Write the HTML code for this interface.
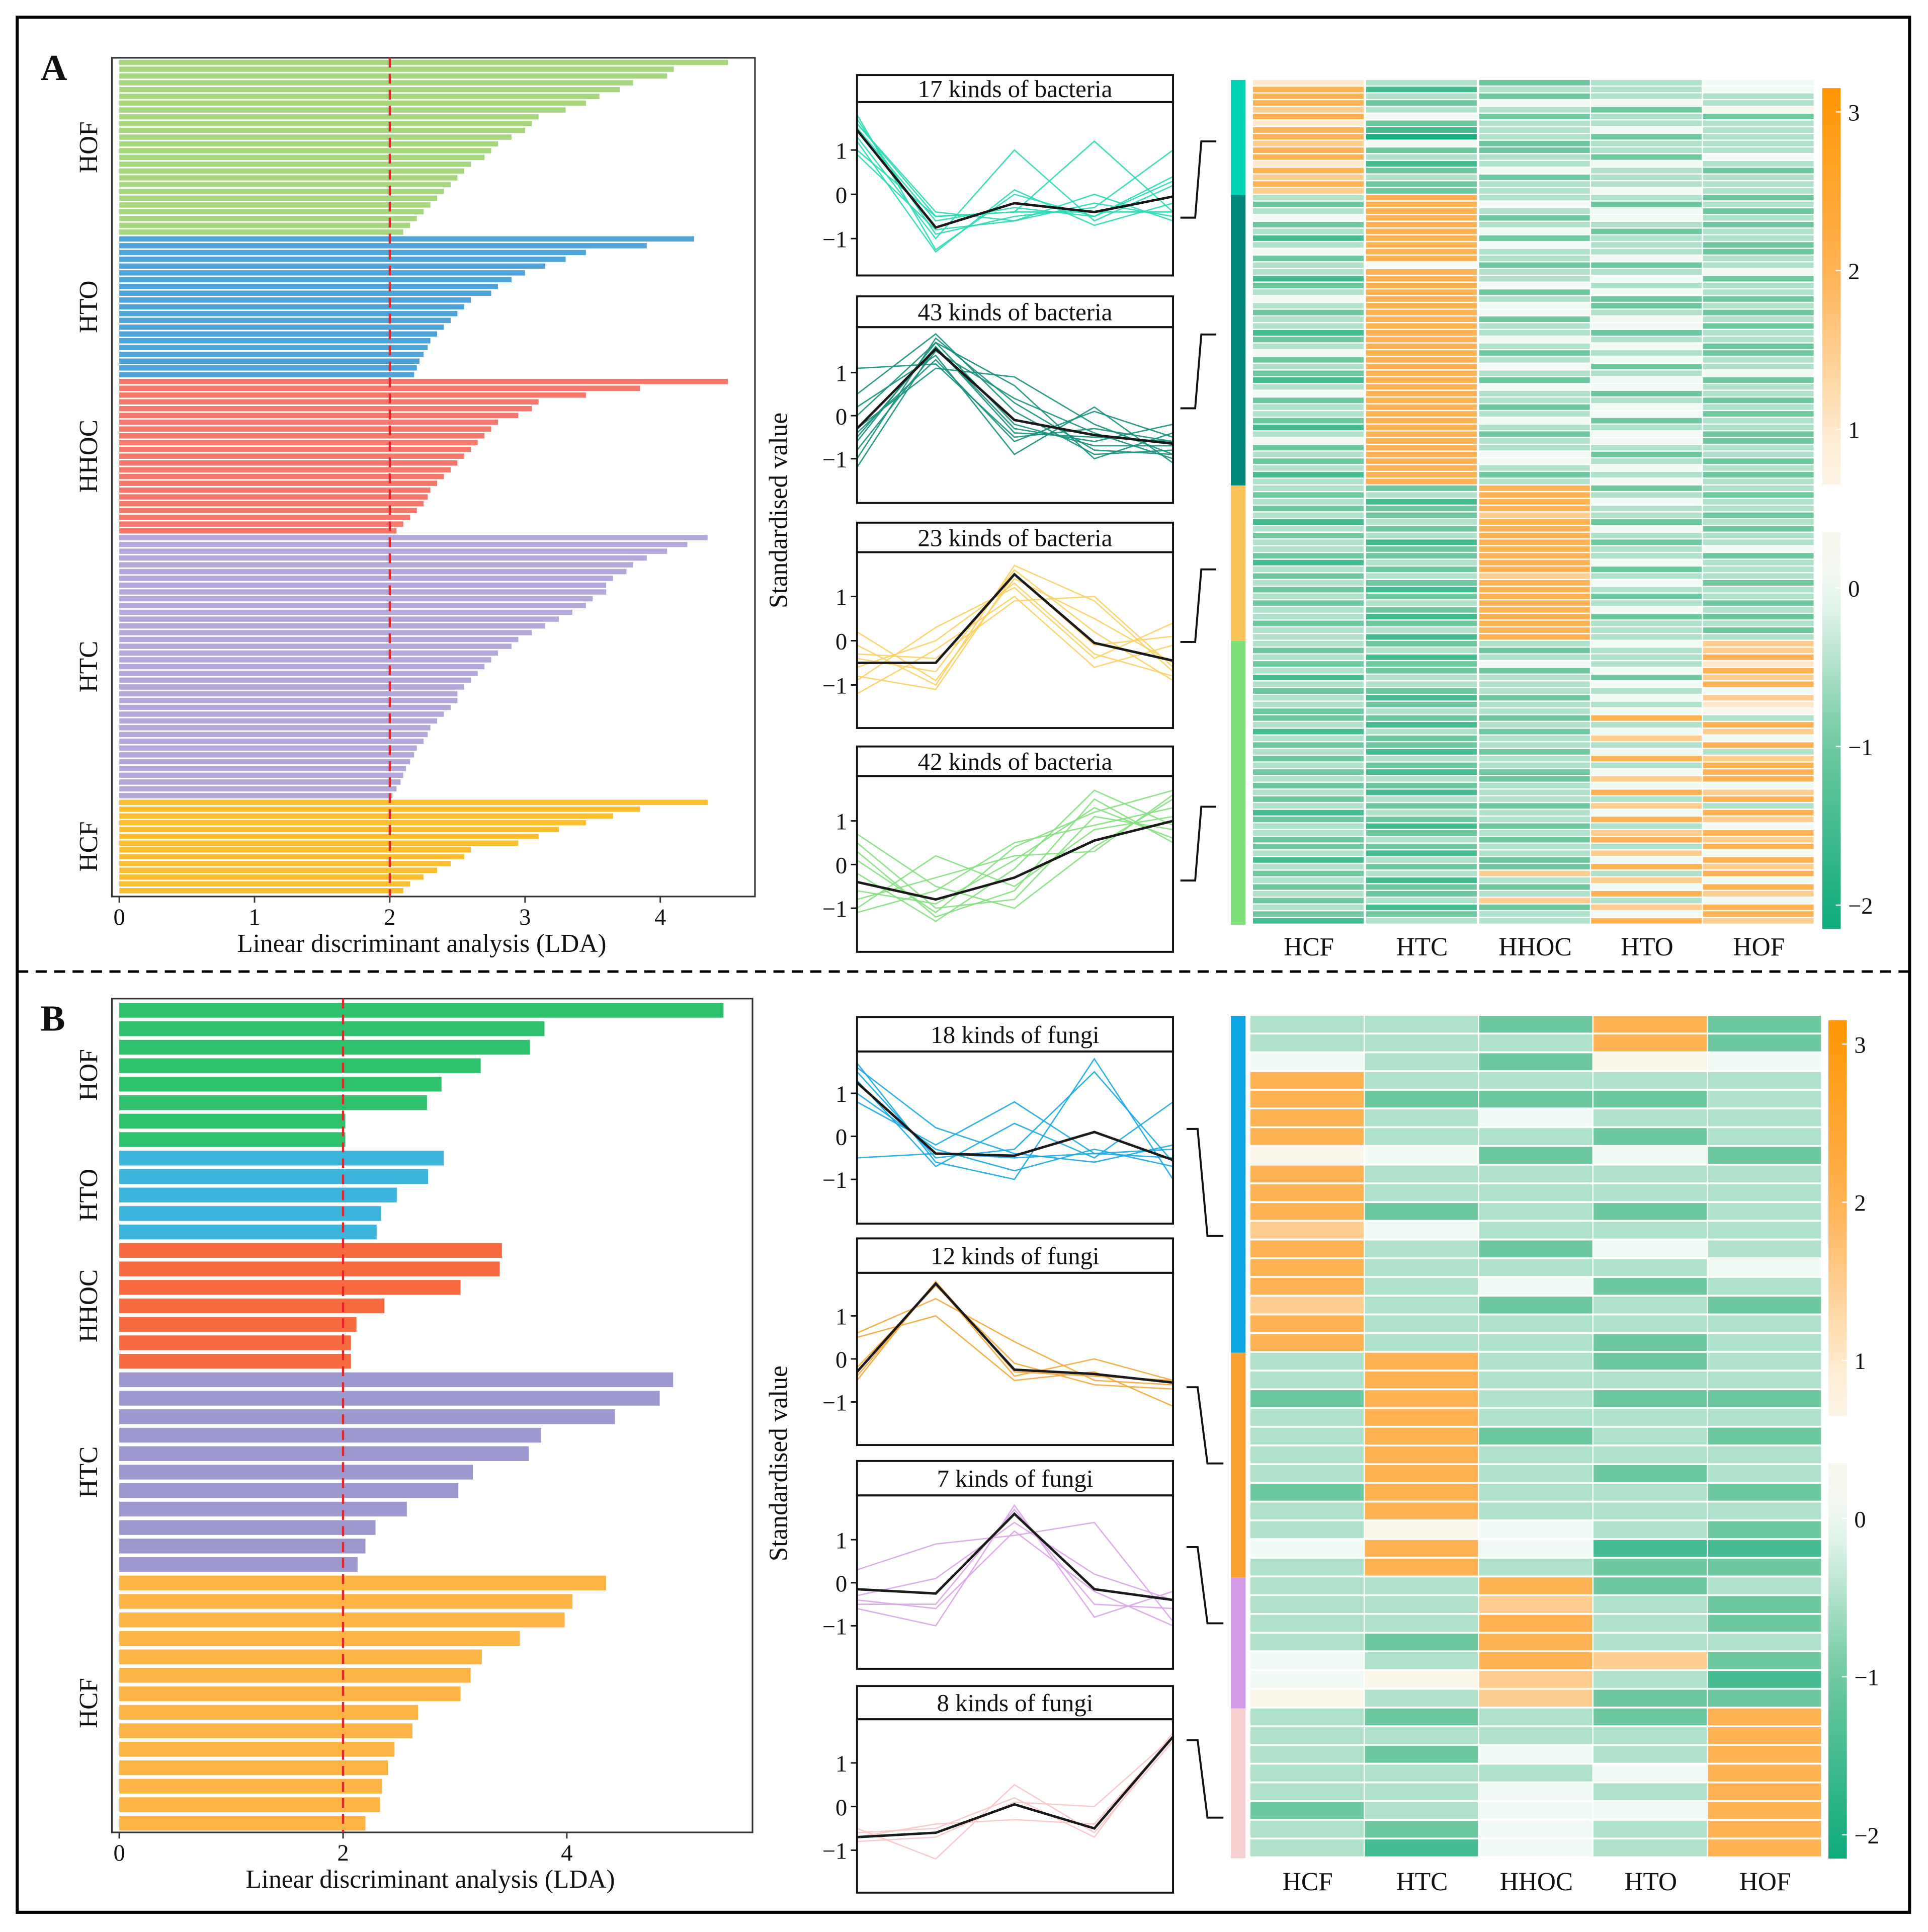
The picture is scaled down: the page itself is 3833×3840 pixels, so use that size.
<!DOCTYPE html>
<html><head><meta charset="utf-8"><style>
html,body{margin:0;padding:0;background:#fff;}
svg{display:block;}
text{font-family:"Liberation Serif",serif;fill:#111;}
</style></head><body>
<svg id="fig" xmlns="http://www.w3.org/2000/svg" width="3833" height="3840" viewBox="0 0 1568 1571" preserveAspectRatio="none">
<rect x="0" y="0" width="1568" height="1571" fill="#fff"/>
<rect x="14" y="14" width="1539" height="1541" fill="none" stroke="#000" stroke-width="2.5"/>
<line x1="14" y1="790" x2="1553" y2="790" stroke="#000" stroke-width="2" stroke-dasharray="9,6"/>
<text x="33" y="65" font-size="30" font-weight="bold">A</text>
<text x="33" y="838" font-size="30" font-weight="bold">B</text>
<text transform="translate(640,415) rotate(-90)" text-anchor="middle" font-size="21">Standardised value</text>
<text transform="translate(640,1190) rotate(-90)" text-anchor="middle" font-size="21">Standardised value</text>
</svg>
<script>
// ---------- LDA data ----------
const ldaGroupsA = ["HOF","HTO","HHOC","HTC","HCF"];
const ldaColorsA = ["#a6d77f","#4ea3d9","#f6776b","#b3a8d9","#fdbf2d"];
const ldaHOF_A = [4.5,4.1,4.05,3.8,3.7,3.55,3.45,3.3,3.1,3.05,3.0,2.9,2.8,2.75,2.7,2.6,2.55,2.5,2.45,2.4,2.35,2.3,2.25,2.2,2.15,2.1];
const ldaHTO_A = [4.25,3.9,3.45,3.3,3.15,3.0,2.9,2.8,2.75,2.6,2.55,2.5,2.45,2.4,2.35,2.3,2.28,2.25,2.22,2.2,2.18];
const ldaHHOC_A = [4.5,3.85,3.45,3.1,3.05,2.95,2.8,2.75,2.7,2.65,2.6,2.55,2.5,2.45,2.4,2.35,2.3,2.28,2.25,2.2,2.15,2.1,2.05];
const ldaHTC_A = [4.35,4.2,4.05,3.9,3.8,3.75,3.65,3.6,3.6,3.5,3.45,3.35,3.25,3.15,3.05,2.95,2.9,2.8,2.75,2.7,2.65,2.6,2.55,2.5,2.5,2.45,2.4,2.35,2.3,2.28,2.25,2.2,2.18,2.15,2.12,2.1,2.08,2.05,2.02];
const ldaHCF_A = [4.35,3.85,3.65,3.45,3.25,3.1,2.95,2.6,2.55,2.45,2.35,2.25,2.15,2.1];
const ldaTicksA = [0,1,2,3,4];

const ldaGroupsB = ["HOF","HTO","HHOC","HTC","HCF"];
const ldaColorsB = ["#2ec26c","#3cb4dc","#f76a3f","#9d99cf","#fdb444"];
const ldaHOF_B = [5.4,3.8,3.67,3.23,2.88,2.75,2.02,2.02];
const ldaHTO_B = [2.9,2.76,2.48,2.34,2.3];
const ldaHHOC_B = [3.42,3.4,3.05,2.37,2.12,2.07,2.07];
const ldaHTC_B = [4.95,4.83,4.43,3.77,3.66,3.16,3.03,2.57,2.29,2.2,2.13];
const ldaHCF_B = [4.35,4.05,3.98,3.58,3.24,3.14,3.05,2.67,2.62,2.46,2.4,2.35,2.33,2.2];
const ldaTicksB = [0,2,4];

// ---------- line panel data ----------
const lineTicks = [1,0,-1];
const titlesA = ["17 kinds of bacteria","43 kinds of bacteria","23 kinds of bacteria","42 kinds of bacteria"];
const titlesB = ["18 kinds of fungi","12 kinds of fungi","7 kinds of fungi","8 kinds of fungi"];
const meanA1 = [1.45,-0.75,-0.2,-0.4,-0.05];
const meanA2 = [-0.3,1.55,-0.1,-0.45,-0.65];
const meanA3 = [-0.5,-0.5,1.5,-0.05,-0.45];
const meanA4 = [-0.4,-0.8,-0.3,0.55,1.0];
const linesA1 = [[1.8,-1.25,0.0,-0.5,0.4],[1.6,-0.4,-0.6,0.0,-0.6],[1.3,-1.0,1.0,-0.6,0.2],[1.0,-0.5,-0.4,1.2,-0.4],[1.7,-0.9,-0.5,-0.3,1.0],[1.2,-1.3,0.1,-0.7,-0.2],[1.5,-0.6,-0.3,-0.5,0.3],[0.9,-0.8,-0.6,-0.2,-0.5],[1.6,-0.5,-0.4,-0.4,-0.4]];
const linesA2 = [[-1.0,1.8,0.3,-0.8,-0.9],[1.1,1.2,-0.5,-0.3,-0.6],[-0.6,1.7,0.7,-1.0,-0.4],[0.2,1.4,-0.9,0.2,-1.1],[-1.2,1.6,-0.3,-0.6,-0.2],[0.5,1.9,0.1,-0.9,-0.8],[-0.4,1.3,-0.6,0.1,-0.5],[-0.8,1.5,0.4,-0.4,-1.0],[0.0,1.7,-0.2,-0.7,-0.7],[-0.3,1.1,0.9,-0.2,-0.9],[-0.5,1.6,-0.4,-0.5,-0.6]];
const linesA3 = [[-0.1,-1.0,1.7,0.9,-0.7],[-0.9,0.3,1.2,-0.4,0.4],[-0.4,-0.7,1.6,0.2,-0.9],[-1.2,-0.2,1.0,-0.6,-0.1],[0.2,-0.9,1.4,0.5,-0.5],[-0.6,0.0,1.3,-0.3,-0.8],[-0.8,-1.1,1.5,-0.1,0.1],[-0.3,-0.4,0.9,1.0,-0.6]];
const linesA4 = [[0.3,-1.2,-0.6,1.5,0.5],[-0.8,-0.3,0.2,0.3,1.6],[0.5,-1.0,-0.8,1.1,0.8],[-1.1,-0.6,0.5,0.9,1.3],[-0.2,-1.3,-0.1,1.7,0.9],[0.7,-0.5,-1.0,0.4,1.5],[-0.6,-0.9,0.1,1.3,0.6],[-1.0,0.2,-0.5,0.8,1.1],[0.1,-1.1,0.4,1.2,1.7]];
const meanB1 = [1.25,-0.4,-0.45,0.1,-0.55];
const meanB2 = [-0.3,1.75,-0.25,-0.35,-0.55];
const meanB3 = [-0.15,-0.25,1.6,-0.15,-0.4];
const meanB4 = [-0.7,-0.6,0.05,-0.5,1.6];
const linesB1 = [[1.7,-0.6,-1.0,1.8,-1.0],[0.8,-0.2,0.8,-0.4,-0.3],[1.5,-0.5,-0.3,1.5,-0.6],[-0.5,-0.4,-0.5,-0.4,-0.5],[1.3,-0.7,0.3,-0.5,0.8],[1.0,-0.3,-0.8,-0.3,-0.7],[1.6,0.2,-0.4,-0.6,-0.2]];
const linesB2 = [[-0.5,1.8,-0.3,-0.4,-0.5],[0.5,1.0,-0.5,-0.3,-1.1],[0.6,1.4,0.4,-0.5,-0.6],[-0.4,1.75,-0.4,0.0,-0.5],[-0.2,1.7,-0.1,-0.6,-0.7]];
const linesB3 = [[0.3,0.9,1.1,1.4,-0.9],[-0.6,-1.0,1.8,-0.8,-0.2],[-0.4,-0.6,1.2,-0.2,-1.0],[-0.5,-0.5,1.7,-0.5,-0.6],[-0.3,0.1,1.4,0.2,-0.4]];
const linesB4 = [[-0.5,-1.2,0.5,-0.6,1.5],[-0.7,-0.4,-0.3,-0.4,1.6],[-0.6,-0.5,0.2,-0.7,1.7],[-0.8,-0.7,0.1,0.0,1.6]];

// ---------- heatmap data (digit code: 0=-2 ... 4=0 ... 8=2, step 0.5) ----------
const heatCols = ["HCF","HTC","HHOC","HTO","HOF"];
const heatLevels = [-2,-1.5,-1,-0.5,0,0.5,1,1.5,2,2.5];
const heatA1 = ["63234","81334","83233","82443","73325","84232","62333","81343","80323","74233","82233","83324","61343","82432","73233","82333","72343"];
const heatA2 = ["38332","28423","38342","48243","28332","38423","18233","38432","48332","28343","34223","38334","18342","28433","38243","48322","38423","28432","38243","38342","18323","28433","38342","48232","28343","38423","28334","18242","38443","48323","28332","38243","38342","28423","18333","38242","48342","28333","38423","28432","38343","18232","38343"];
const heatA3 = ["32823","23832","31843","22833","32732","13823","32842","23833","31823","32834","22832","13843","32823","23733","32842","21833","32823","23832","32843","31822","22833","33832","31833"];
const heatA4 = ["32347","23237","31338","22436","32248","13327","33348","22334","31247","32336","23345","22283","31338","13247","32374","22338","31243","23387","32338","21248","33278","22344","31387","23338","32273","13348","22387","31234","32378","23287","22338","31374","13248","32287","23738","31374","22248","32387","23734","31278","22348","13387"];
const heatB1 = ["33282","33382","43254","83333","82223","83433","83323","54242","83333","83333","82323","74333","83243","83334","83423","73232","83333","83323"];
const heatB2 = ["38323","38333","28322","38333","38232","38333","38323","28332","38333","35432","48411","38322"];
const heatB3 = ["33823","33732","33832","32833","43872","45731","53722"];
const heatB4 = ["32328","33338","32438","33348","33438","23448","32438","31438"];
const cbTicks = [3,2,1,0,-1,-2];

// ---------- helpers ----------
const NS = "http://www.w3.org/2000/svg";
const svg = document.getElementById("fig");
function el(tag, attrs, parent){ const e=document.createElementNS(NS,tag); for(const k in attrs) e.setAttribute(k,attrs[k]); (parent||svg).appendChild(e); return e; }
function hex(c){return [parseInt(c.slice(1,3),16),parseInt(c.slice(3,5),16),parseInt(c.slice(5,7),16)];}
const cStops = [[-2.2,"#0aa97a"],[-1,"#6ec89f"],[0,"#f2faf5"],[0.8,"#fff3e3"],[2,"#ffb253"],[3.2,"#ff9500"]];
function colorOf(v){
  if(v<=cStops[0][0]) return cStops[0][1];
  for(let i=1;i<cStops.length;i++){ if(v<=cStops[i][0]){ const a=cStops[i-1],b=cStops[i]; const t=(v-a[0])/(b[0]-a[0]); const A=hex(a[1]),B=hex(b[1]); return "rgb("+A.map((x,j)=>Math.round(x+(B[j]-x)*t)).join(",")+")"; } }
  return cStops[cStops.length-1][1];
}

// ---------- LDA chart ----------
function drawLDA(id, groups, colors, data, ticks, cfg){
  const g = el("g",{});
  
  
  const fr = el("rect",{x:cfg.fx,y:cfg.fy,width:cfg.fw,height:cfg.fh,fill:"none",stroke:"#333","stroke-width":1.3},g);
  
  
  const xs = v => cfg.x0 + v*cfg.unit;
  const total = data.reduce((s,a)=>s+a.length,0);
  const step = (cfg.by1-cfg.by0)/total;
  let i=0;
  data.forEach((arr,gi)=>{
    const start=i;
    arr.forEach((v,k)=>{
      const r = el("rect",{x:xs(0),y:cfg.by0+i*step+step*(1-cfg.frac)/2,width:xs(v)-xs(0),height:step*cfg.frac,fill:colors[gi]},g);
      
      
      i++;
    });
    const cy = cfg.by0+(start+i)/2*step;
    const t = el("text",{transform:"translate("+(cfg.fx-12)+","+cy+") rotate(-90)","text-anchor":"middle","font-size":21},g);
    t.textContent = groups[gi];
    
    
  });
  const dl = el("line",{x1:xs(2),y1:cfg.fy,x2:xs(2),y2:cfg.fy+cfg.fh,stroke:"#e8262a","stroke-width":1.8,"stroke-dasharray":"8,5"},g);
  
  
  ticks.forEach(v=>{
    const tl = el("line",{x1:xs(v),y1:cfg.fy+cfg.fh,x2:xs(v),y2:cfg.fy+cfg.fh+5,stroke:"#333","stroke-width":1.2},g);
    
    
    const tt = el("text",{x:xs(v),y:cfg.fy+cfg.fh+23,"text-anchor":"middle","font-size":19},g);
    tt.textContent = v;
    
    
  });
  const xt = el("text",{x:cfg.titleX,y:cfg.fy+cfg.fh+45,"text-anchor":"middle","font-size":21},g);
  xt.textContent = "Linear discriminant analysis (LDA)";
  
  
}
drawLDA("lda-chart-a", ldaGroupsA, ldaColorsA, [ldaHOF_A,ldaHTO_A,ldaHHOC_A,ldaHTC_A,ldaHCF_A], ldaTicksA,
  {fx:91,fy:47,fw:523,fh:682,x0:97,unit:110,by0:48,by1:727,frac:0.78,titleX:343});
drawLDA("lda-chart-b", ldaGroupsB, ldaColorsB, [ldaHOF_B,ldaHTO_B,ldaHHOC_B,ldaHTC_B,ldaHCF_B], ldaTicksB,
  {fx:91,fy:812,fw:521,fh:678,x0:97,unit:91,by0:814,by1:1490,frac:0.8,titleX:350});

// ---------- line panels ----------
const lx = [697,761,825,890,954];
let clipId=0;
function drawLinePanel(id, title, lines, mean, color, cfg){
  const g = el("g",{});
  
  
  const ys = v => cfg.y0 - v*cfg.unit;
  const cid = "clip"+(clipId++);
  const cp = el("clipPath",{id:cid},g);
  el("rect",{x:697,y:cfg.pt,width:257,height:cfg.pb-cfg.pt},cp);
  const lg = el("g",{"clip-path":"url(#"+cid+")"},g);
  lines.forEach((arr,k)=>{
    const p = el("polyline",{points:arr.map((v,j)=>lx[j]+","+ys(v)).join(" "),fill:"none",stroke:color,"stroke-width":1.1,opacity:0.9},lg);
    
    
  });
  const m = el("polyline",{points:mean.map((v,j)=>lx[j]+","+ys(v)).join(" "),fill:"none",stroke:"#1a1a1a","stroke-width":2},lg);
  
  
  const tb = el("rect",{x:697,y:cfg.tt,width:257,height:cfg.pt-cfg.tt,fill:"#fff",stroke:"#111","stroke-width":1.6},g);
  
  
  const pb = el("rect",{x:697,y:cfg.pt,width:257,height:cfg.pb-cfg.pt,fill:"none",stroke:"#111","stroke-width":1.6},g);
  
  
  const t = el("text",{x:825.5,y:cfg.tt+(cfg.pt-cfg.tt)/2+7,"text-anchor":"middle","font-size":20},g);
  t.textContent = title;
  
  
  lineTicks.forEach(v=>{
    const tl = el("line",{x1:692,y1:ys(v),x2:697,y2:ys(v),stroke:"#111","stroke-width":1.2},g);
    
    
    const tx = el("text",{x:689,y:ys(v)+7,"text-anchor":"end","font-size":19},g);
    tx.textContent = v===-1?"−1":v;
    
    
  });
}
const colA = ["#2dd9b5","#17917c","#fcd166","#84e07e"];
const colB = ["#1aa8e6","#f5a73a","#d9a6e8","#f7c6c8"];
drawLinePanel("line-panel-a1",titlesA[0],linesA1,meanA1,colA[0],{tt:61,pt:83,pb:224,y0:158,unit:36});
drawLinePanel("line-panel-a2",titlesA[1],linesA2,meanA2,colA[1],{tt:241,pt:266,pb:409,y0:338,unit:35});
drawLinePanel("line-panel-a3",titlesA[2],linesA3,meanA3,colA[2],{tt:425,pt:449,pb:592,y0:521,unit:36});
drawLinePanel("line-panel-a4",titlesA[3],linesA4,meanA4,colA[3],{tt:607,pt:631,pb:774,y0:703,unit:35.5});
drawLinePanel("line-panel-b1",titlesB[0],linesB1,meanB1,colB[0],{tt:827,pt:855,pb:995,y0:924,unit:35});
drawLinePanel("line-panel-b2",titlesB[1],linesB2,meanB2,colB[1],{tt:1007,pt:1035,pb:1175,y0:1105,unit:35});
drawLinePanel("line-panel-b3",titlesB[2],linesB3,meanB3,colB[2],{tt:1188,pt:1216,pb:1357,y0:1287,unit:35});
drawLinePanel("line-panel-b4",titlesB[3],linesB4,meanB4,colB[3],{tt:1371,pt:1398,pb:1539,y0:1469,unit:35.5});

// brackets
const brA = [[177,115],[332,272],[522,463],[716,656]];
brA.forEach((b,k)=>{
  const p = el("polyline",{points:"960,"+b[0]+" 972,"+b[0]+" 977,"+b[1]+" 989,"+b[1],fill:"none",stroke:"#111","stroke-width":1.6});
  
  
});
const brB = [[918,1005],[1128,1190],[1258,1320],[1415,1478]];
brB.forEach((b,k)=>{
  const p = el("polyline",{points:"965,"+b[0]+" 974,"+b[0]+" 982,"+b[1]+" 995,"+b[1],fill:"none",stroke:"#111","stroke-width":1.6});
  
  
});

// ---------- heatmaps ----------
function drawHeat(id, clusters, sideColors, cfg){
  const g = el("g",{});
  
  
  const total = clusters.reduce((s,a)=>s+a.length,0);
  const rh = (cfg.y1-cfg.y0)/total;
  let r=0;
  clusters.forEach((rows,ci)=>{
    const s = el("rect",{x:1001,y:cfg.y0+r*rh,width:12,height:rows.length*rh,fill:sideColors[ci]},g);
    
    
    rows.forEach(row=>{
      for(let c=0;c<5;c++){
        const v = heatLevels[parseInt(row[c])];
        const cell = el("rect",{x:cfg.cx[c],y:cfg.y0+r*rh,width:cfg.cw-1,height:rh-cfg.gap,fill:colorOf(v)},g);
        
        
      }
      r++;
    });
  });
  heatCols.forEach((n,c)=>{
    const t = el("text",{x:cfg.cx[c]+cfg.cw/2,y:cfg.labY,"text-anchor":"middle","font-size":21},g);
    t.textContent = n;
    
    
  });
}
drawHeat("heatmap-a",[heatA1,heatA2,heatA3,heatA4],["#00d4b4","#00897a","#fcc35a","#7ee07a"],
  {y0:65,y1:752,cx:[1019,1111,1203,1294,1385],cw:91,gap:1,labY:777});
drawHeat("heatmap-b",[heatB1,heatB2,heatB3,heatB4],["#0ea6e2","#f9a02e","#d39be8","#f7cfd0"],
  {y0:826,y1:1511,cx:[1017,1110,1203,1296,1389],cw:93,gap:1.5,labY:1537});

// ---------- colorbars ----------
function drawCB(id, cfg){
  const g = el("g",{});
  
  
  const ys = v => cfg.y3 + (3-v)*cfg.unit;
  const defs = el("defs",{},g);
  const mk = (gid, vTop, vBot)=>{
    const lg = el("linearGradient",{id:gid,x1:0,y1:0,x2:0,y2:1},defs);
    for(let k=0;k<=10;k++){ const v=vTop+(vBot-vTop)*k/10; el("stop",{offset:k/10,"stop-color":colorOf(v)},lg); }
  };
  mk(id+"-o",3.15,0.65); mk(id+"-g",0.35,-2.15);
  const o = el("rect",{x:cfg.x,y:ys(3.15),width:15,height:ys(0.65)-ys(3.15),fill:"url(#"+id+"-o)"},g);
  
  
  const gr = el("rect",{x:cfg.x,y:ys(0.35),width:15,height:ys(-2.15)-ys(0.35),fill:"url(#"+id+"-g)"},g);
  
  
  cbTicks.forEach(v=>{
    const tl = el("line",{x1:cfg.x+11,y1:ys(v),x2:cfg.x+15,y2:ys(v),stroke:"#fff","stroke-width":1},g);
    
    
    const t = el("text",{x:cfg.x+21,y:ys(v)+7,"font-size":19},g);
    t.textContent = v<0?"−"+(-v):v;
    
    
  });
}
drawCB("colorbar-a",{x:1482,y3:91,unit:129});
drawCB("colorbar-b",{x:1487,y3:849,unit:128.6});
</script>
</body></html>
